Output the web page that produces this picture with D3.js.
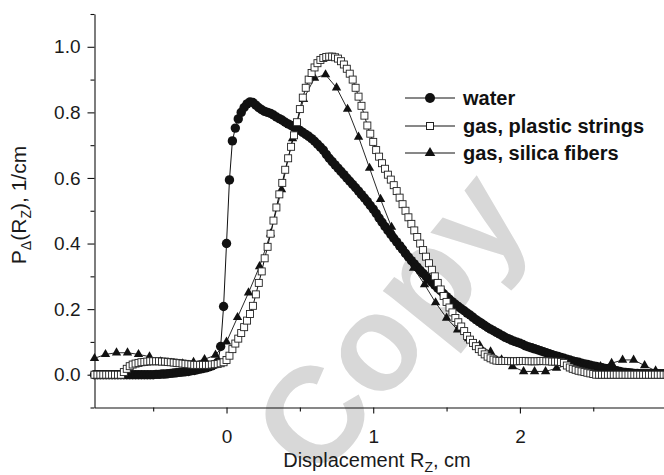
<!DOCTYPE html>
<html><head><meta charset="utf-8">
<script src="https://cdn.jsdelivr.net/npm/d3@7"></script>
<style>html,body{margin:0;padding:0;background:#fff;} svg{display:block;}</style>
</head><body><svg id="chart" width="664" height="475"></svg>
<script>
// ---------------- data ----------------
const seriesNames = ["water", "gas, plastic strings", "gas, silica fibers"];
const xTicksMajor = [0, 1, 2];
const xTicksMinor = [-0.5, 0.5, 1.5, 2.5];
const yTicksMajor = [0.0, 0.2, 0.4, 0.6, 0.8, 1.0];
const yTicksMinor = [-0.1, 0.1, 0.3, 0.5, 0.7, 0.9, 1.1];
const watermarkText = "Copy";

// water & plastic strings: sampled every 0.02 cm starting at -0.90 cm
const gridStart = -0.9, gridStep = 0.02;
const waterY = [
  0,0,0,0,0,0,0,0,0,0,                                   // -0.90 .. -0.72
  0,0,0,0,0,0,0,0,0,0,                                   // -0.70 .. -0.52
  0,                                                     // -0.50
  0.001,0.001,0.002,0.002,0.003,0.004,0.005,0.006,0.007,0.008, // -0.48 .. -0.30
  0.009,0.010,0.012,0.013,0.015,0.017,0.019,0.021,0.024,0.027, // -0.28 .. -0.10
  0.031,0.038,0.086,0.208,                               // -0.08 .. -0.02
  0.400,0.594,0.713,0.752,0.780,0.800,0.815,0.826,0.832,0.830, // 0.00 .. 0.18
  0.822,0.814,0.808,0.803,0.800,0.797,0.792,0.786,0.781,0.776, // 0.20 .. 0.38
  0.770,0.765,0.760,0.755,0.750,0.745,0.739,0.733,0.727,0.720, // 0.40 .. 0.58
  0.712,0.703,0.694,0.685,0.672,0.660,0.650,0.640,0.630,0.620, // 0.60 .. 0.78
  0.610,0.600,0.590,0.580,0.570,0.560,0.549,0.539,0.528,0.516, // 0.80 .. 0.98
  0.505,0.492,0.478,0.465,0.452,0.440,0.428,0.416,0.405,0.393, // 1.00 .. 1.18
  0.382,0.370,0.359,0.348,0.338,0.328,0.318,0.309,0.300,0.291, // 1.20 .. 1.38
  0.282,0.273,0.264,0.256,0.247,0.238,0.230,0.222,0.215,0.208, // 1.40 .. 1.58
  0.201,0.195,0.188,0.182,0.175,0.168,0.162,0.156,0.150,0.144, // 1.60 .. 1.78
  0.139,0.134,0.129,0.124,0.119,0.114,0.110,0.106,0.102,0.099, // 1.80 .. 1.98
  0.096,0.092,0.088,0.085,0.082,0.079,0.076,0.073,0.070,0.067, // 2.00 .. 2.18
  0.064,0.061,0.058,0.056,0.053,0.050,0.047,0.045,0.042,0.040, // 2.20 .. 2.38
  0.038,0.035,0.033,0.031,0.029,0.027,0.025,0.023,0.021,0.019, // 2.40 .. 2.58
  0.018,0.016,0.014,0.012,0.010,0.008,0.007,0.006,0.005,0.004, // 2.60 .. 2.78
  0.004,0.003,0.003,0.003,0.003,0.003,0.003,0.003,0.003,0.003, // 2.80 .. 2.98
  0.003                                                  // 3.00
];
const plasticY = [
  0,0,0,0,0,0,0,0,0,0,                                   // -0.90 .. -0.72
  0.008,0.018,0.026,0.031,0.034,0.036,0.038,0.039,0.040,0.041, // -0.70 .. -0.52
  0.041,0.041,0.041,0.040,0.040,0.039,0.038,0.037,0.036,0.035, // -0.50 .. -0.32
  0.034,0.033,0.032,0.031,0.030,0.030,0.030,0.030,0.030,0.030, // -0.30 .. -0.12
  0.031,0.032,0.033,0.035,0.038,                         // -0.10 .. -0.02
  0.045,0.058,0.078,0.095,0.110,0.127,0.145,0.165,0.185,0.210, // 0.00 .. 0.18
  0.245,0.280,0.315,0.355,0.390,0.430,0.470,0.510,0.550,0.585, // 0.20 .. 0.38
  0.625,0.660,0.695,0.730,0.770,0.810,0.845,0.875,0.900,0.920, // 0.40 .. 0.58
  0.937,0.950,0.960,0.966,0.969,0.970,0.970,0.968,0.964,0.956, // 0.60 .. 0.78
  0.946,0.933,0.918,0.900,0.875,0.848,0.820,0.790,0.760,0.735, // 0.80 .. 0.98
  0.710,0.685,0.665,0.645,0.628,0.610,0.595,0.578,0.560,0.540, // 1.00 .. 1.18
  0.520,0.500,0.480,0.460,0.440,0.420,0.400,0.380,0.360,0.340, // 1.20 .. 1.38
  0.320,0.300,0.280,0.260,0.240,0.222,0.205,0.190,0.173,0.160, // 1.40 .. 1.58
  0.147,0.133,0.118,0.107,0.097,0.087,0.078,0.070,0.062,0.055, // 1.60 .. 1.78
  0.050,0.046,0.043,0.042,0.042,                         // 1.80 .. 1.88
  0.042,0.042,0.041,0.041,0.041,0.042,0.042,0.042,0.041,0.041, // 1.90 .. 2.08
  0.041,0.041,0.042,0.042,0.041,0.041,0.040,0.040,0.040,0.039, // 2.10 .. 2.28
  0.036,0.028,0.022,0.018,0.015,0.012,0.010,0.008,0.006,0.004, // 2.30 .. 2.48
  0.002,                                                 // 2.50
  0,0,0,0,0,0,0,0,0,0,                                   // 2.52 .. 2.70
  0,0,0,0,0,0,0,0,0,0,                                   // 2.72 .. 2.90
  0,0,0,0,0                                              // 2.92 .. 3.00
];
// silica fibers: sampled every 0.075 cm starting at -0.90 cm
const silicaStart = -0.9, silicaStep = 0.075;
const silicaY = [
  0.050,0.062,0.067,0.067,0.062,0.055,0.040,0.035,0.034,0.038, // -0.900 .. -0.225
  0.047,0.060,                                           // -0.150 .. -0.075
  0.100,0.175,0.250,0.330,0.430,0.565,0.720,0.840,0.905,0.915, // 0.000 .. 0.675
  0.875,0.810,0.725,0.630,0.535,0.450,0.390,0.325,0.275,0.220, // 0.750 .. 1.425
  0.173,0.137,0.110,0.090,0.070,0.046,0.025,0.010,0.010,0.010, // 1.500 .. 2.175
  0.020,0.030,0.030,0.025,0.025,0.035,0.045,0.045,0.028,0.012, // 2.250 .. 2.925
  0.008                                                  // 3.000
];

// ---------------- chart ----------------
const W = 664, H = 475;
const FONT = "'Liberation Sans', Arial, Helvetica, sans-serif";
const svg = d3.select("#chart");
svg.append("rect").attr("width", W).attr("height", H).attr("fill", "#fff");

const x = d3.scaleLinear().domain([-0.9, 3.0]).range([94.5, 666.6]);
const y = d3.scaleLinear().domain([-0.1, 1.1]).range([407.5, 14]);

const water = waterY.map((v, i) => [gridStart + i * gridStep, v]);
const plastic = plasticY.map((v, i) => [gridStart + i * gridStep, v]);
const silica = silicaY.map((v, i) => [silicaStart + i * silicaStep, v]);

// watermark
svg.append("text")
  .attr("transform", "translate(426,352) rotate(-51)")
  .attr("text-anchor", "middle")
  .attr("font-family", FONT).attr("font-weight", "bold")
  .attr("font-size", 136).attr("fill", "#d8d8d8")
  .text(watermarkText);

// axes
svg.append("g").attr("transform", `translate(0,${y(-0.1)})`)
  .call(d3.axisBottom(x).tickValues(xTicksMajor).tickSize(6).tickSizeOuter(0)
    .tickPadding(16).tickFormat(d3.format("d")));
svg.append("g").attr("transform", `translate(0,${y(-0.1)})`)
  .call(d3.axisBottom(x).tickValues(xTicksMinor).tickSize(4).tickFormat(""))
  .select(".domain").remove();
svg.append("g").attr("transform", `translate(${x(-0.9)},0)`)
  .call(d3.axisLeft(y).tickValues(yTicksMajor).tickSize(7).tickSizeOuter(0)
    .tickPadding(7).tickFormat(d3.format(".1f")));
svg.append("g").attr("transform", `translate(${x(-0.9)},0)`)
  .call(d3.axisLeft(y).tickValues(yTicksMinor).tickSize(4).tickFormat(""))
  .select(".domain").remove();
svg.selectAll(".domain, .tick line").attr("stroke", "#111").attr("stroke-width", 1.1);
svg.selectAll(".tick text").attr("font-family", FONT).attr("font-size", 19).attr("fill", "#1a1a1a");

// axis titles
const xt = svg.append("text").attr("x", 377).attr("y", 467).attr("text-anchor", "middle")
  .attr("font-family", FONT).attr("font-size", 20).attr("fill", "#1a1a1a");
xt.append("tspan").text("Displacement R");
xt.append("tspan").attr("font-size", 14).attr("dy", 5).text("Z");
xt.append("tspan").attr("dy", -5).text(", cm");

const yt = svg.append("text").attr("transform", "translate(26,205) rotate(-90)")
  .attr("text-anchor", "middle")
  .attr("font-family", FONT).attr("font-size", 21).attr("fill", "#1a1a1a");
yt.append("tspan").text("P");
yt.append("tspan").attr("font-size", 14).attr("dy", 5).text("\u0394");
yt.append("tspan").attr("dy", -5).text("(R");
yt.append("tspan").attr("font-size", 14).attr("dy", 5).text("Z");
yt.append("tspan").attr("dy", -5).text("), 1/cm");

// series
const line = d3.line().x(d => x(d[0])).y(d => y(d[1]));
const tri = d3.symbol().type(d3.symbolTriangle).size(38);

// water
svg.append("path").datum(water).attr("d", line).attr("fill", "none").attr("stroke", "#111").attr("stroke-width", 1);
svg.append("g").selectAll("circle").data(water).join("circle")
  .attr("cx", d => x(d[0])).attr("cy", d => y(d[1])).attr("r", 4.7).attr("fill", "#111");

// silica
svg.append("path").datum(silica).attr("d", line).attr("fill", "none").attr("stroke", "#111").attr("stroke-width", 0.9);
svg.append("g").selectAll("path").data(silica).join("path")
  .attr("transform", d => `translate(${x(d[0])},${y(d[1])})`).attr("d", tri).attr("fill", "#111");

// plastic strings
svg.append("path").datum(plastic).attr("d", line).attr("fill", "none").attr("stroke", "#111").attr("stroke-width", 1);
svg.append("g").selectAll("rect").data(plastic).join("rect")
  .attr("x", d => x(d[0]) - 3.5).attr("y", d => y(d[1]) - 3.5)
  .attr("width", 7).attr("height", 7)
  .attr("fill", "#fff").attr("stroke", "#222").attr("stroke-width", 0.9);

// legend
const legRows = [98, 126, 153];
const lg = svg.append("g");
seriesNames.forEach((name, i) => {
  const ry = legRows[i];
  lg.append("line").attr("x1", 405).attr("x2", 455).attr("y1", ry).attr("y2", ry)
    .attr("stroke", "#111").attr("stroke-width", 1);
  if (i === 0) lg.append("circle").attr("cx", 430).attr("cy", ry).attr("r", 5).attr("fill", "#111");
  if (i === 1) lg.append("rect").attr("x", 426.5).attr("y", ry - 3.5).attr("width", 7).attr("height", 7)
    .attr("fill", "#fff").attr("stroke", "#222").attr("stroke-width", 1);
  if (i === 2) lg.append("path").attr("transform", `translate(430,${ry})`)
    .attr("d", d3.symbol().type(d3.symbolTriangle).size(48)).attr("fill", "#111");
  lg.append("text").attr("x", 463).attr("y", ry + 7)
    .attr("font-family", FONT).attr("font-weight", "bold").attr("font-size", 20)
    .attr("fill", "#111").text(name);
});
</script></body></html>
